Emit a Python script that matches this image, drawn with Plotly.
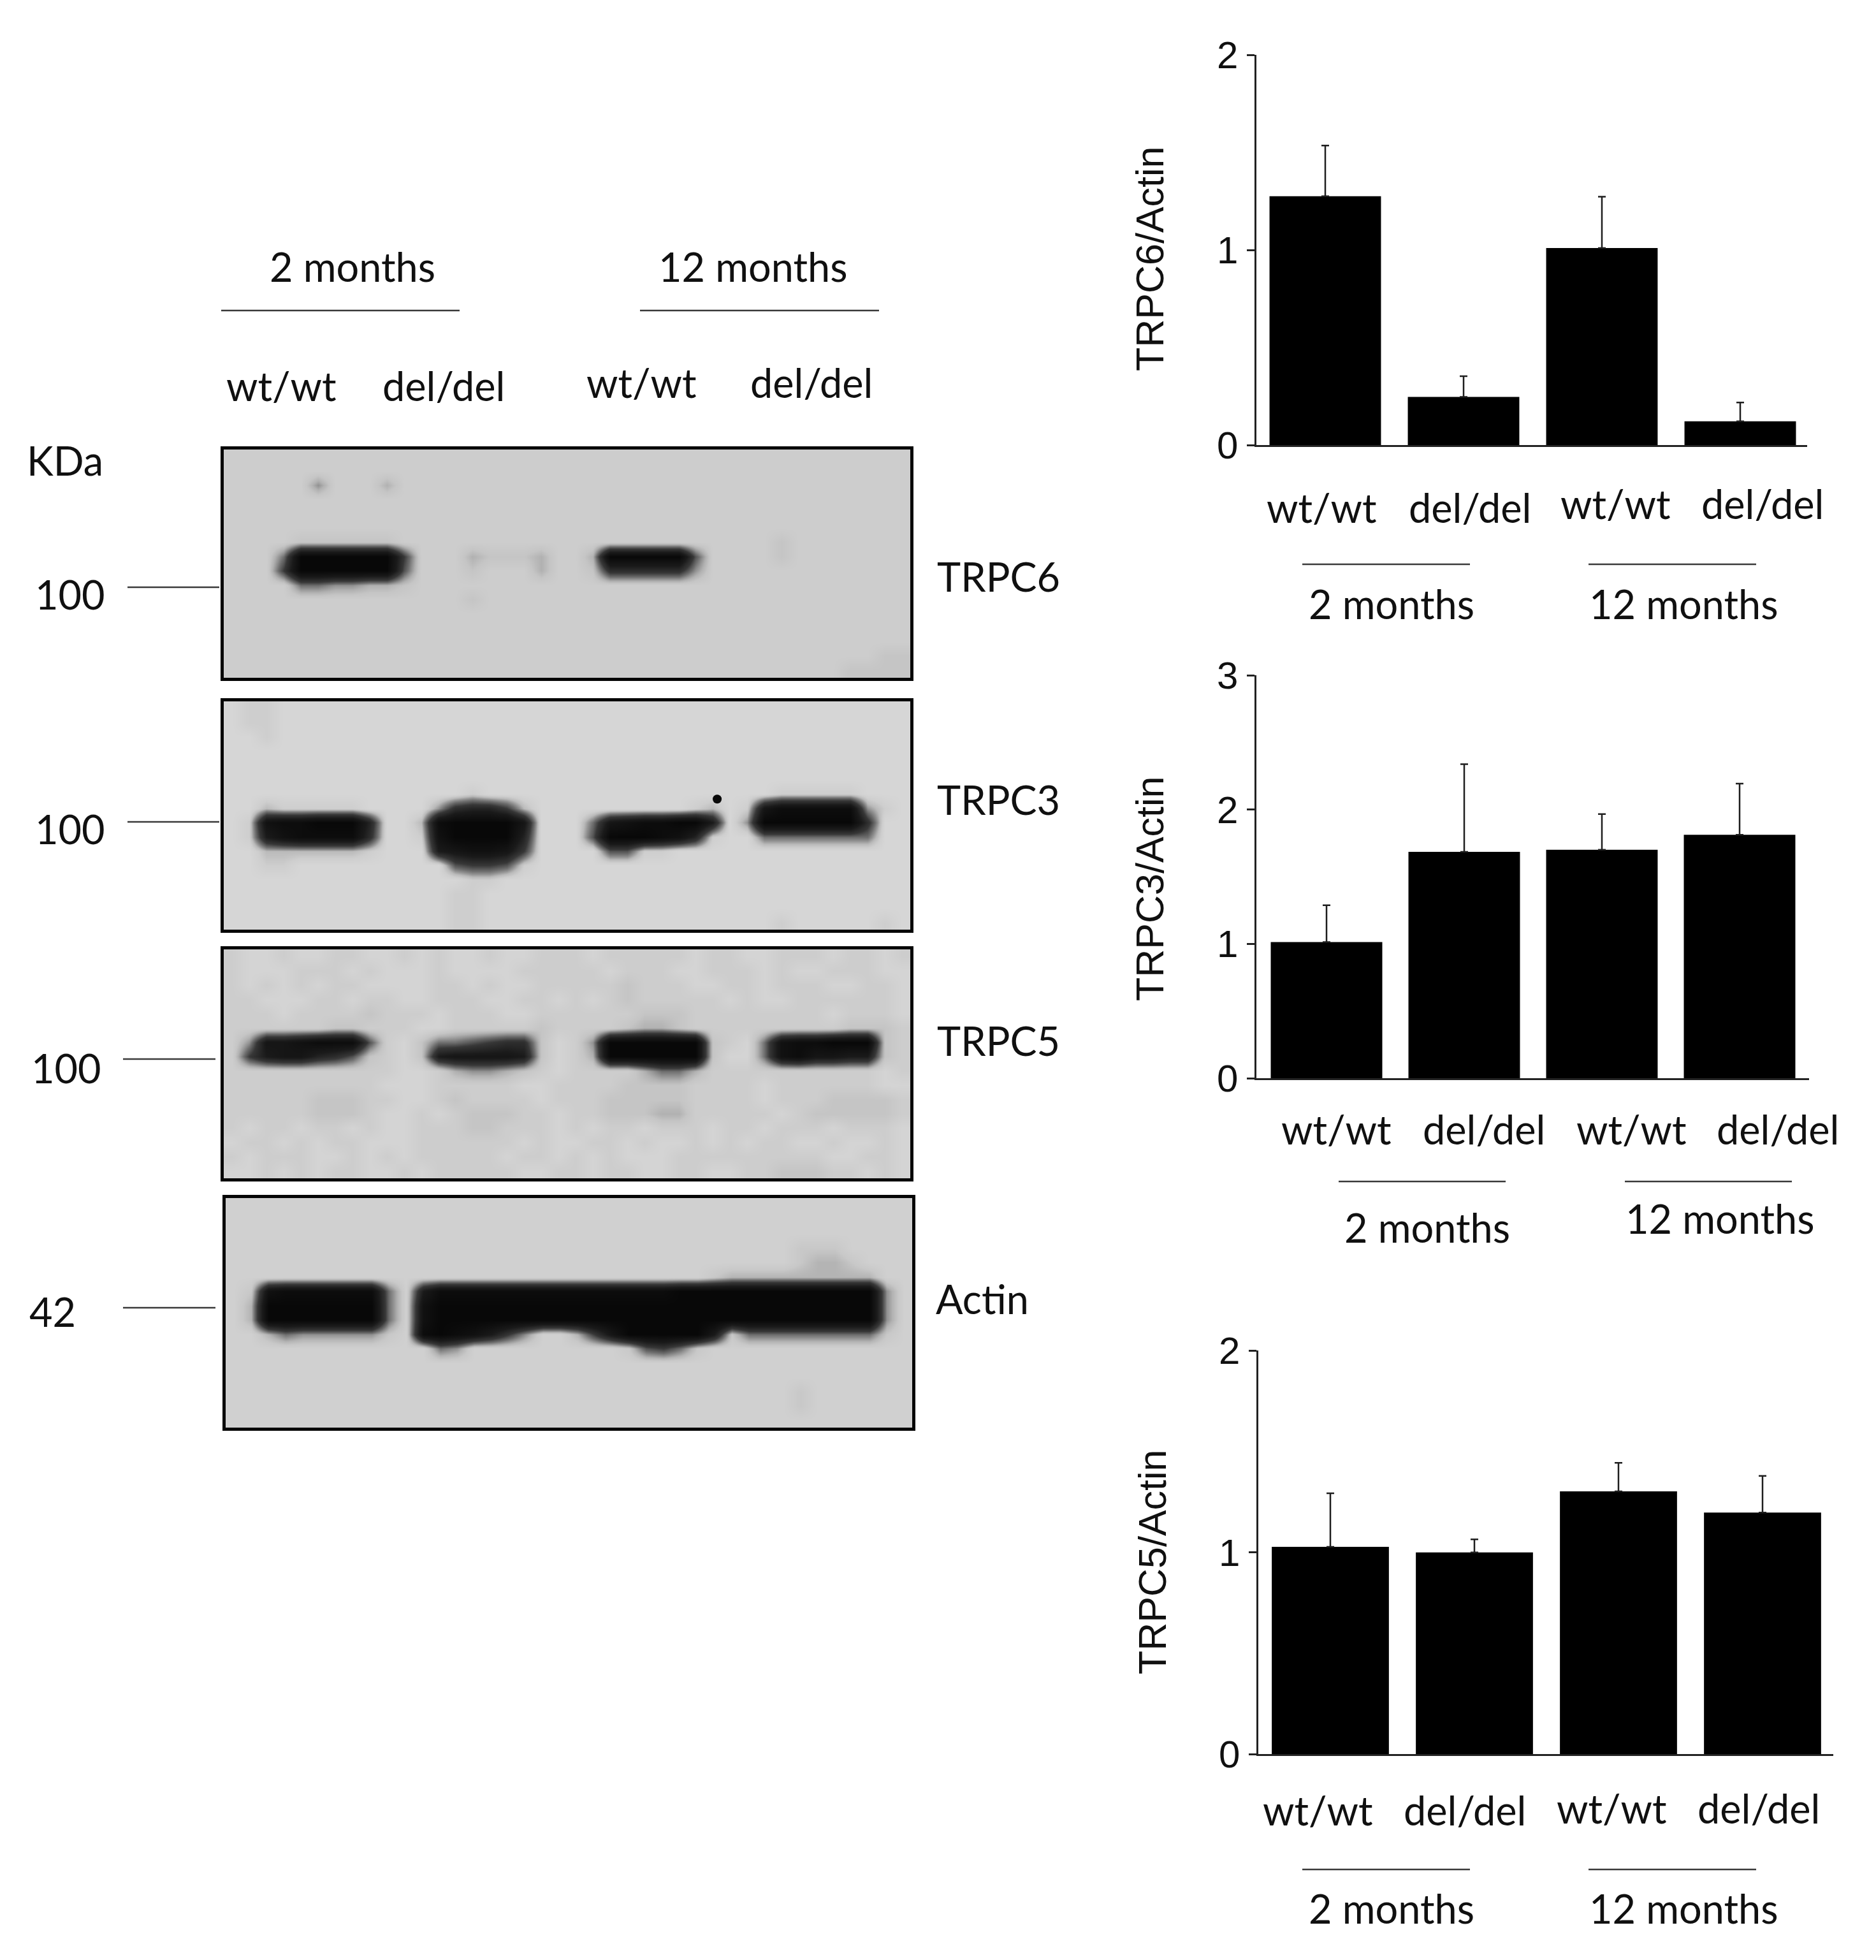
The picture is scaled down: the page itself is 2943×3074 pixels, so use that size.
import plotly.graph_objects as go

W, H = 2943, 3074

# ---------- data ----------
lanes = ["wt/wt", "del/del", "wt/wt", "del/del"]
ages = ["2 months", "12 months"]

trpc6_mean = [1.275, 0.247, 1.01, 0.122]
trpc6_top = [1.535, 0.353, 1.273, 0.218]
trpc3_mean = [1.014, 1.685, 1.70, 1.812]
trpc3_top = [1.287, 2.338, 1.966, 2.193]
trpc5_mean = [1.027, 0.999, 1.302, 1.197]
trpc5_top = [1.292, 1.064, 1.443, 1.378]

# Blot densitometry grids: one hex digit per cell (0 dark .. f light)
blot_trpc6 = [
    "dddddddddd dddddddddd dddddddddd dddddddddd",
    "dddddddddd dddddddddd dddddddddd dddddddddd",
    "dddddadddb dddddddddd dddddddddd dddddddddd",
    "dddddddddd dddddddddd dddddddddd dddddddddd",
    "dddddddddd dddddddddd dddddddddd dddddddddd",
    "dddddddddd dddddddddd dddddddddd dddddddddd",
    "ddddcccccc dddddddddd dddddddddd ddcddddddd",
    "ddd9000000 7dddbcccbd db000008dd ddcddddddd",
    "ddd7000000 8dddcdddbd dc66666add dddddddddd",
    "dddd99aabb cddddddddd dddddddddd dddddddddd",
    "dddddddddd ddddcddddd dddddddddd dddddddddd",
    "dddddddddd dddddddddd dddddddddd dddddddddd",
    "dddddddddd dddddddddd dddddddddd dddddddddd",
    "dddddddddd dddddddddd dddddddddd dddddddddd",
    "dddddddddd dddddddddd dddddddddd ddddddddcc",
    "dddddddddd dddddddddd dddddddddd ddddddcccc",
]
blot_trpc3 = [
    "dccddddddd dddddddddd dddddddddd dddddddddd",
    "dccddddddd dddddddddd dddddddddd dddddddddd",
    "ddcddddddd dddddddddd dddddddddd dddddddddd",
    "dddddddddd dddddddddd dddddddddd dddddddddd",
    "dddddddddd dddddddddd dddddddddd dddddddddd",
    "dddddddddd dddddddddd dddddddddd dddddddddd",
    "dddddddddd ddddcddddd dddddddddd ddcccccddd",
    "ddbcccccdd dda6557bdd dddddddcbd c311111acd",
    "dc2110005d db100003dd d93211004d a0000006dd",
    "dc4211116d dc200005dd d8000125cd d9999999dd",
    "ddbbbbbbcd dd432237dd dd88ccdddd dddddddddd",
    "ddccdddddd ddd8778cdd dddddddddd dddddddddd",
    "dddddddddd ddddccdddd dddddddddd dddddddddd",
    "dddddddddd dddccddddd dddddddddd dddddddddd",
    "dddddddddd dddccddddd dddddddddd dddddddddd",
    "dddddddddd dddccddddd dddddddddd ddcdddddcd",
]
blot_trpc3_speck_col = [28.75]
blot_trpc3_speck_row = [6.85]
blot_trpc5 = [
    "deedeeddee dedeedeedd dedddddedd eedddedded",
    "deeedddede eedeeeeddd ddedddeedd dedeedddee",
    "dedededdee eeddedeedd dddcdddeed dedddeedde",
    "ddeeeddedd eedddeedde dedcddddde deedddddde",
    "dddeddddcd ddedddeedd ddddcccddd dddddeddde",
    "ddddddccdd deedddddcd dddcbbcddd ddddddcccd",
    "da3321118d ec998766ce da000000cd e9211000cd",
    "d7433568cd ec433334ce db000000ce e9213344cd",
    "dddddddddd eedbaabcde ddddb99bdd dddddddded",
    "ddddddddde eedddddeed dddccccddd deddddddee",
    "dddddcccdd eedcdddded ddcccccddd dedddccccd",
    "dddddcccde ededcccdde ddcccbbddd ddedcccccd",
    "deddeddede edddccddde deddeddded dedddeddde",
    "eddededdee eddddddede eddedeeded eddeedeede",
    "dedddeeded edddddedde dedeeedddd dddddeedde",
    "eedededdee dedddddeed deddeeddee ddcccddede",
]
blot_actin = [
    "dddddddddd dddddddddd dddddddddd dddddddddd",
    "dddddddddd dddddddddd dddddddddd dddddddddd",
    "dddddddddd dddddddddd dddddddddd dddddddddd",
    "dddddddddd dddddddddd dddddddddd dddcccdddd",
    "dddddddddd dddddddddd dddddddddd dddcbbcddd",
    "dddddddddd dddddddddd ddddddddcb bbbbbbbbdd",
    "dc21111119 d411111111 1111110000 00000000ad",
    "db00000009 d200000000 0000000000 00000000ad",
    "db00000009 d200000000 0000000000 00000000ad",
    "ddb9aaaaac d101247add b73000004c 99999999cd",
    "dddddddddd dd9adddddd dddc879cdd dddddddddd",
    "dddddddddd dddddddddd dddddddddd dddddddddd",
    "dddddddddd dddddddddd dddddddddd dddddddddd",
    "dddddddddd dddddddddd dddddddddd dddcdddddd",
    "dddddddddd dddddddddd dddddddddd dddcdddddd",
    "dddddddddd dddddddddd dddddddddd dddddddddd",
]
blot_names = ["TRPC6", "TRPC3", "TRPC5", "Actin"]
blot_kda = ["100", "100", "100", "42"]


def grid(rows):
    out = [[int(c, 16) for c in r.replace(" ", "")] for r in rows]
    assert all(len(r) == 40 for r in out), [len(r) for r in out]
    return out


# ---------- helpers ----------
OFF = 8  # body margin of the page


def px(x):
    return (x - OFF) / W


def py(y):
    return 1 - (y - OFF) / H


TXT = "#101010"
CAL = "Lato"
ARIAL = "Liberation Sans"
annotations, shapes = [], []


def text(s, x, y, size=63, font=CAL, anchor="center", angle=0):
    dy = 3 if font == CAL else 0
    annotations.append(dict(text=s, x=px(x), y=py(y - dy), xref="paper", yref="paper",
                            xanchor=anchor, yanchor="middle", showarrow=False,
                            textangle=angle, borderpad=0,
                            font=dict(family=font, size=size, color=TXT)))


def rule(x0, x1, y, color="#3a3a3a", width=2.5):
    shapes.append(dict(type="line", xref="paper", yref="paper", x0=px(x0), x1=px(x1),
                       y0=py(y), y1=py(y), line=dict(color=color, width=width)))


def gray(v):
    return f"rgb({v},{v},{v})"


def scale(bg):
    stops = [(0, 8), (4, 26), (7, 55), (9, 110), (10, 145), (11, bg - 28), (12, bg - 8),
             (13, bg), (14, bg + 7), (15, bg + 14)]
    return [[d / 15, gray(v)] for d, v in stops]


fig = go.Figure()
layout = dict(template="none", width=W, height=H, margin=dict(l=0, r=0, t=0, b=0),
              paper_bgcolor="white", plot_bgcolor="white", showlegend=False)

# ---------- blots ----------
blots = [
    (blot_trpc6, (351, 1428, 705, 1063), 205, 921, (200, 344), (110, 934), (1469, 906)),
    (blot_trpc3, (351, 1428, 1100, 1458), 214, 1289, (200, 344), (110, 1302), (1469, 1257)),
    (blot_trpc5, (351, 1428, 1489, 1848), 205, 1661, (193, 338), (104, 1677), (1469, 1634)),
    (blot_actin, (354, 1431, 1879, 2239), 208, 2051, (193, 338), (82, 2059), (1467, 2039)),
]
axn = 1
for i, (rows, (x0, x1, y0, y1), bg, ty, (tx0, tx1), (kx, ky), (lx, ly)) in enumerate(blots):
    z = grid(rows)
    xa = "xaxis" if axn == 1 else f"xaxis{axn}"
    ya = "yaxis" if axn == 1 else f"yaxis{axn}"
    sx = "x" if axn == 1 else f"x{axn}"
    sy = "y" if axn == 1 else f"y{axn}"
    fig.add_trace(go.Heatmap(z=z, x=[c + .5 for c in range(40)], y=[r + .5 for r in range(16)],
                             xaxis=sx, yaxis=sy, zmin=0, zmax=15, zsmooth="best", showscale=False,
                             colorscale=scale(bg), hoverinfo="skip"))
    if rows is blot_trpc3:
        fig.add_trace(go.Scatter(x=blot_trpc3_speck_col, y=blot_trpc3_speck_row, mode="markers",
                                 xaxis=sx, yaxis=sy, hoverinfo="skip",
                                 marker=dict(color="#0a0a0a", size=14, line=dict(width=0))))
    common = dict(showgrid=False, zeroline=False, showticklabels=False, ticks="", showline=True,
                  mirror=True, linecolor="#050505", linewidth=5, automargin=False)
    layout[xa] = dict(domain=[px(x0), px(x1)], range=[0, 40], anchor=sy, **common)
    layout[ya] = dict(domain=[py(y1), py(y0)], range=[16, 0], anchor=sx, **common)
    axn += 1
    rule(tx0, tx1, ty)
    text(blot_kda[i], kx, ky)
    text(blot_names[i], lx, ly, anchor="left")

text("KDa", 102, 724)
for s, x in zip(ages, (553, 1181)):
    text(s, x, 420)
rule(347, 721, 487)
rule(1004, 1379, 487)
for s, x, y in zip(lanes, (441, 696, 1006, 1273), (608, 608, 602, 602)):
    text(s, x, y)

# ---------- bar panels ----------
panels = [
    dict(mean=trpc6_mean, top=trpc6_top, ymax=2, ticks=[0, 1, 2], title="TRPC6/Actin",
         x0=1971, x1=2835, ytop=86, y0=698, cx0=2079, dx=217, bw=.806,
         titlepos=(1804, 406), lx=(2073, 2306, 2534, 2765), ly=(798, 798, 792, 792),
         rules=((2043, 2306, 885), (2492, 2755, 885)), ages=((2183, 949), (2641, 949))),
    dict(mean=trpc3_mean, top=trpc3_top, ymax=3, ticks=[0, 1, 2, 3], title="TRPC3/Actin",
         x0=1971, x1=2838, ytop=1059, y0=1691, cx0=2081, dx=216, bw=.81,
         titlepos=(1804, 1394), lx=(2096, 2328, 2559, 2789), ly=(1773, 1773, 1773, 1773),
         rules=((2100, 2362, 1853), (2549, 2811, 1853)), ages=((2239, 1928), (2698, 1914))),
    dict(mean=trpc5_mean, top=trpc5_top, ymax=2, ticks=[0, 1, 2], title="TRPC5/Actin",
         x0=1974, x1=2876, ytop=2118, y0=2751, cx0=2087, dx=226, bw=.813,
         titlepos=(1808, 2449), lx=(2067, 2298, 2528, 2759), ly=(2841, 2841, 2838, 2838),
         rules=((2043, 2306, 2932), (2492, 2755, 2932)), ages=((2183, 2995), (2641, 2995))),
]
for p in panels:
    sx, sy = f"x{axn}", f"y{axn}"
    fig.add_trace(go.Bar(x=list(range(4)), y=p["mean"], width=p["bw"], xaxis=sx, yaxis=sy,
                         marker=dict(color="#000000", line=dict(width=0)),
                         error_y=dict(type="data", symmetric=False,
                                      array=[t - m for t, m in zip(p["top"], p["mean"])],
                                      arrayminus=[0, 0, 0, 0], color="#1e1e1e", thickness=2.5, width=6),
                         hoverinfo="skip"))
    layout[f"xaxis{axn}"] = dict(domain=[px(p["x0"]), px(p["x1"])], anchor=sy, automargin=False,
                                 range=[(p["x0"] - p["cx0"]) / p["dx"], (p["x1"] - p["cx0"]) / p["dx"]],
                                 showgrid=False, zeroline=False, showticklabels=False, ticks="",
                                 showline=True, linecolor="#222222", linewidth=2.5)
    layout[f"yaxis{axn}"] = dict(domain=[py(p["y0"]), py(p["ytop"])], anchor=sx, range=[0, p["ymax"]],
                                 tickvals=p["ticks"], ticktext=[str(t) for t in p["ticks"]],
                                 ticks="outside", ticklen=12, tickwidth=2.5, tickcolor="#222222",
                                 showgrid=False, zeroline=False, showline=True, linecolor="#222222",
                                 linewidth=2.5, ticklabelstandoff=2, automargin=False,
                                 tickfont=dict(family=ARIAL, size=60, color=TXT))
    axn += 1
    text(p["title"], *p["titlepos"], size=61, font=ARIAL, angle=-90)
    for s, x, y in zip(lanes, p["lx"], p["ly"]):
        text(s, x, y)
    for x0, x1, y in p["rules"]:
        rule(x0, x1, y)
    for s, (x, y) in zip(ages, p["ages"]):
        text(s, x, y)

layout["annotations"] = annotations
layout["shapes"] = shapes
fig.update_layout(**layout)
fig.write_html("out.html")
